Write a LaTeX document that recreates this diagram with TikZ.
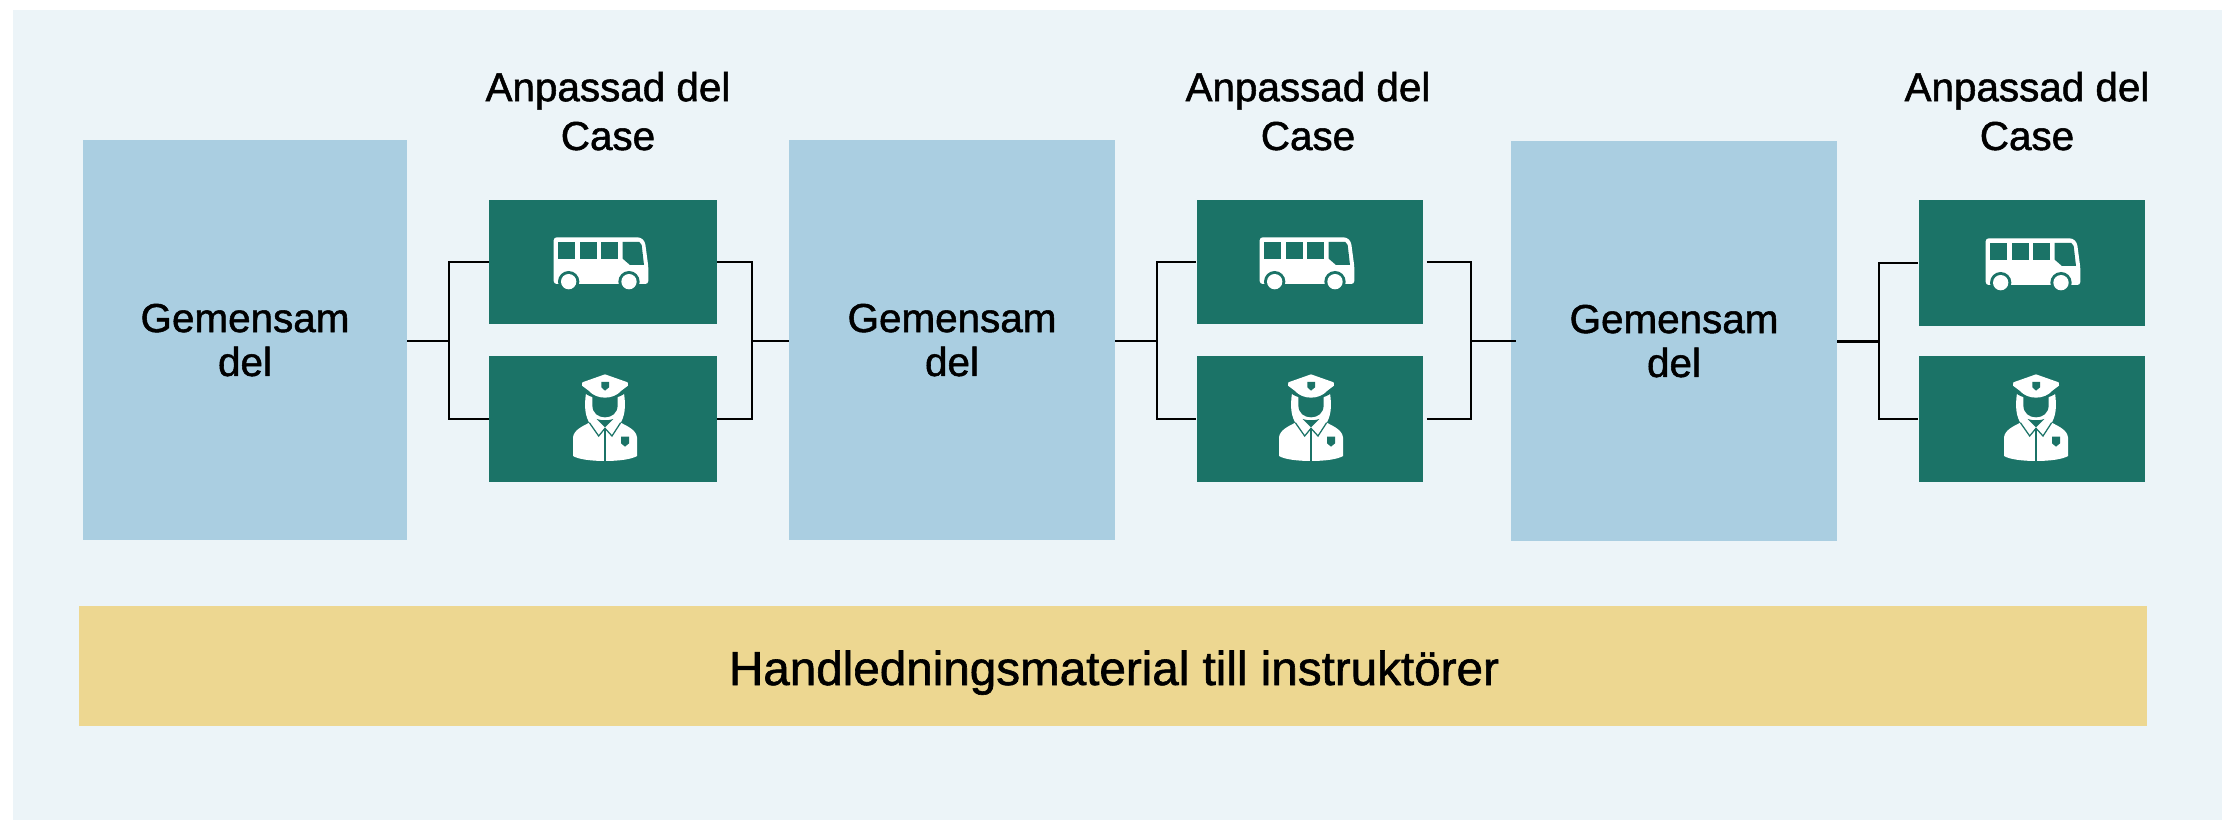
\documentclass[tikz,border=0pt]{standalone}
\usepackage{fontspec}
\setmainfont[FakeBold=1.3]{Liberation Sans}
\definecolor{pagebg}{HTML}{ECF4F8}
\definecolor{partblue}{HTML}{AACEE1}
\definecolor{casegreen}{HTML}{1B7367}
\definecolor{guidegold}{HTML}{EDD791}
\newcommand{\partlabel}{\raisebox{0pt}[0.56cm][0pt]{Gemensam}\\\raisebox{0pt}[0pt][0pt]{del}}
\tikzset{
    partbox/.style={fill=partblue, inner sep=0, minimum width=6.52cm, minimum height=8cm, align=center, font=\fontsize{23}{25}\selectfont},
    casebox/.style={fill=casegreen, inner sep=0, minimum width=4.54cm, minimum height=2.52cm},
    caselabel/.style={inner sep=0, align=center, font=\fontsize{23}{27.8}\selectfont},
    link/.style={line width=0.04cm, black},
    buspic/.pic={
        \begin{scope}[x=0.00667cm, y=-0.00667cm, shift={(-609,-246)}]
            \fill[white, rounded corners=0.06cm] (461,172) -- (722,172) -- (735,185) -- (745,260) -- (745,312) -- (461,312) -- cycle;
            \fill[casegreen] (475,186) rectangle (526,236);
            \fill[casegreen] (539,186) rectangle (590,236);
            \fill[casegreen] (603,186) rectangle (654,236);
            \fill[casegreen] (668,186) -- (718,186) -- (725,195) -- (732,255) -- (690,255) -- (668,236) -- cycle;
            \fill[casegreen] (506,305) circle (32);
            \fill[casegreen] (687,305) circle (32);
            \fill[casegreen] (470,312) rectangle (725,340);
            \fill[white] (506,305) circle (23);
            \fill[white] (687,305) circle (23);
        \end{scope}
    },
    coppic/.pic={
        \begin{scope}[x=0.00667cm, y=-0.00667cm, shift={(-609,-717)}]
            % hair and head
            \fill[white] (558,640) .. controls (552,680) and (555,710) .. (572,735) -- (658,735) .. controls (675,710) and (678,680) .. (672,640) -- cycle;
            \fill[casegreen] (577,650) -- (653,650) -- (653,675) .. controls (653,700) and (635,712) .. (615,712) .. controls (595,712) and (577,700) .. (577,675) -- cycle;
            % cap
            \fill[casegreen] (550,620) -- (680,620) -- (680,636) .. controls (650,664) and (580,664) .. (550,636) -- cycle;
            \fill[white] (615,583) -- (683,607) -- (684,617) -- (664,632) .. controls (640,660) and (590,660) .. (566,632) -- (546,617) -- (547,607) -- cycle;
            \fill[casegreen] (604,606) -- (627,606) -- (627,622) -- (615,632) -- (604,622) -- cycle;
            % body
            \fill[white] (519,828) -- (519,772) .. controls (522,750) and (545,740) .. (568,728) -- (662,728) .. controls (685,740) and (708,750) .. (711,772) -- (711,828) .. controls (680,848) and (550,848) .. (519,828) -- cycle;
            \fill[casegreen] (590,717) .. controls (600,722) and (630,722) .. (640,717) -- (615,742) -- cycle;
            \draw[casegreen, line width=0.025cm] (568,728) -- (596,768) -- (615,745) -- (636,768) -- (662,728);
            \draw[casegreen, line width=0.025cm] (615,745) -- (615,846);
            \fill[casegreen] (663,770) -- (687,770) -- (687,790) -- (675,800) -- (663,790) -- cycle;
        \end{scope}
    },
}
\begin{document}
\begin{tikzpicture}[x=0.02cm, y=-0.02cm]
    \useasboundingbox (0,0) rectangle (2222,820);
    \fill[pagebg] (13,10) rectangle (2222,820);

    % common parts
    \node[partbox, minimum width=6.48cm] (partA) at (245,340) {\partlabel};
    \node[partbox] (partB) at (952,340) {\partlabel};
    \node[partbox] (partC) at (1674,341) {\partlabel};

    % case boxes
    \node[casebox, minimum width=4.56cm, minimum height=2.48cm] (busA) at (603,262) {};
    \node[casebox, minimum width=4.56cm] (copA) at (603,419) {};
    \node[casebox, minimum height=2.48cm] (busB) at (1310,262) {};
    \node[casebox] (copB) at (1310,419) {};
    \node[casebox] (busC) at (2032,263) {};
    \node[casebox] (copC) at (2032,419) {};
    \pic at ([xshift=0cm]busA.center) {buspic};
    \pic at ([xshift=0cm]copA.center) {coppic};
    \pic at ([xshift=-0.02cm]busB.center) {buspic};
    \pic at ([xshift=-0.02cm]copB.center) {coppic};
    \pic at ([xshift=0.06cm]busC.center) {buspic};
    \pic at ([xshift=0.04cm]copC.center) {coppic};

    % titles
    \node[caselabel, anchor=base] (titleA) at (608,150) {Anpassad del\\Case};
    \node[caselabel, anchor=base] (titleB) at (1308,150) {Anpassad del\\Case};
    \node[caselabel, anchor=base] (titleC) at (2027,150) {Anpassad del\\Case};

    % guide bar
    \node[fill=guidegold, inner sep=0, minimum width=41.36cm, minimum height=2.4cm] (guide) at (1113,666) {};
    \node[inner sep=0, anchor=base, font=\fontsize{27.1}{30}\selectfont] (guidetext) at (1114,685) {Handledningsmaterial till instruktörer};

    % connectors
    \coordinate (splitA) at (449,341);
    \coordinate (joinA) at (752,341);
    \coordinate (splitB) at (1157,341);
    \coordinate (joinB) at (1471,341);
    \coordinate (splitC) at (1879,342);
    \draw[link] (busA.west) -| (splitA) |- (copA.west);
    \draw[link] (partA.east |- splitA) -- (splitA);
    \draw[link] (busA.east) -| (joinA) |- (copA.east);
    \draw[link] (joinA) -- (partB.west |- joinA);
    \draw[link] (busB.west) -| (splitB) |- (copB.west);
    \draw[link] (partB.east |- splitB) -- (splitB);
    \draw[link, shorten <=0.06cm] (busB.east) -| (joinB);
    \draw[link, shorten <=0.06cm] (copB.east) -| (joinB);
    \draw[link, shorten >=-0.1cm] (joinB) -- (partC.west |- joinB);
    \draw[link] (busC.west) -| (splitC) |- (copC.west);
    \draw[link, line width=0.06cm] (partC.east |- splitC) -- (splitC);
\end{tikzpicture}
\end{document}
